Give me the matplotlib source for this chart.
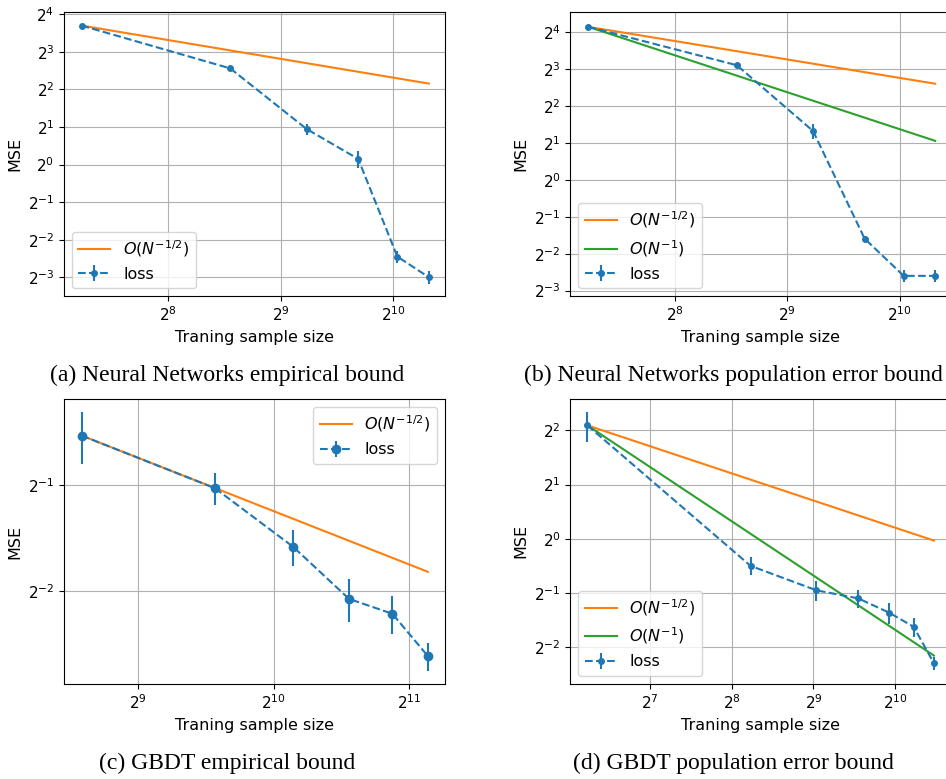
import numpy as np
import matplotlib.pyplot as plt

# (a) Neural Networks, empirical bound
a_n = [150, 375, 600, 825, 1050, 1275]
a_loss = [13.0, 5.9, 1.93, 1.11, 0.183, 0.125]
a_err = [0.1, 0.1, 0.2, 0.17, 0.02, 0.015]
a_bound_n = [150, 1275]
a_half = [13.0, 4.46]

# (b) Neural Networks, population error bound
b_n = [150, 375, 600, 825, 1050, 1275]
b_loss = [17.75, 8.63, 2.51, 0.332, 0.165, 0.165]
b_err = [0.15, 0.1, 0.37, 0.015, 0.019, 0.019]
b_bound_n = [150, 1275]
b_half = [17.75, 6.1]
b_one = [17.75, 2.085]

# (c) GBDT, empirical bound
c_n = [383, 758, 1133, 1508, 1883, 2258]
c_loss = [0.690, 0.490, 0.334, 0.238, 0.216, 0.164]
c_err = [0.116, 0.05, 0.04, 0.033, 0.027, 0.015]
c_bound_n = [383, 2258]
c_half = [0.690, 0.284]

# (d) GBDT, population error bound
d_n = [75, 300, 525, 750, 975, 1200, 1425]
d_loss = [4.26, 0.708, 0.518, 0.467, 0.389, 0.325, 0.204]
d_err = [0.8, 0.08, 0.064, 0.055, 0.052, 0.04, 0.017]
d_bound_n = [75, 1425]
d_half = [4.26, 0.978]
d_one = [4.26, 0.225]

captions = ["(a) Neural Networks empirical bound",
            "(b) Neural Networks population error bound",
            "(c) GBDT empirical bound",
            "(d) GBDT population error bound"]

HALF = r'$O(N^{-1/2})$'
ONE = r'$O(N^{-1})$'


def draw_panel(ax, n, loss, err, bound_n, half, one=None, ms=4, loc='lower left'):
    ax.plot(bound_n, half, color='C1', label=HALF)
    if one is not None:
        ax.plot(bound_n, one, color='C2', label=ONE)
    ax.errorbar(n, loss, yerr=err, fmt='o--', color='C0', ms=ms, label='loss')
    ax.set_xscale('log', base=2)
    ax.set_yscale('log', base=2)
    ax.grid(True)
    ax.set_xlabel('Traning sample size', fontsize=11.5)
    ax.set_ylabel('MSE', fontsize=11.5)
    ax.tick_params(labelsize=11)
    ax.legend(loc=loc, fontsize=11.5)


fig = plt.figure(figsize=(9.46, 7.79), dpi=100)

w, h = 0.4027, 0.364
ax_a = fig.add_axes([0.0677, 0.620, w, h])
ax_b = fig.add_axes([0.6029, 0.620, w, h])
ax_c = fig.add_axes([0.0677, 0.1223, w, 0.3651])
ax_d = fig.add_axes([0.6029, 0.1223, w, 0.3655])

draw_panel(ax_a, a_n, a_loss, a_err, a_bound_n, a_half)
ax_a.set_xlim(2 ** 7.073, 2 ** 10.46)
ax_a.set_ylim(2 ** -3.5, 2 ** 4.05)

draw_panel(ax_b, b_n, b_loss, b_err, b_bound_n, b_half, b_one)
ax_b.set_xlim(2 ** 7.068, 2 ** 10.46)
ax_b.set_ylim(2 ** -3.146, 2 ** 4.54)

draw_panel(ax_c, c_n, c_loss, c_err, c_bound_n, c_half, ms=6, loc='upper right')
ax_c.set_xlim(2 ** 8.451, 2 ** 11.268)
ax_c.set_ylim(2 ** -2.869, 2 ** -0.194)

draw_panel(ax_d, d_n, d_loss, d_err, d_bound_n, d_half, d_one)
ax_d.set_xlim(2 ** 6.02, 2 ** 10.69)
ax_d.set_ylim(2 ** -2.671, 2 ** 2.577)

# captions under each panel
cap_x = [0.240, 0.775, 0.240, 0.775]
cap_y = [1 - 381 / 779, 1 - 381 / 779, 1 - 769 / 779, 1 - 769 / 779]
for x, y, t in zip(cap_x, cap_y, captions):
    fig.text(x, y, t, ha='center', va='baseline', fontsize=17,
             family='Liberation Serif')

fig.savefig('out.png', dpi=100)
